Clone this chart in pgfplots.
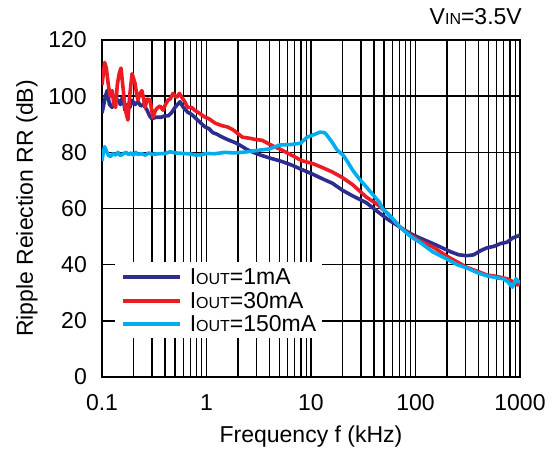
\documentclass[border=0pt]{standalone}
\usepackage{fontspec}
\setmainfont{Liberation Sans}
\usepackage{pgfplots}
\pgfplotsset{compat=1.18}
\newcommand{\sm}[1]{{\fontsize{16bp}{16bp}\selectfont #1}}
\definecolor{cdark}{RGB}{44,45,140}
\definecolor{cred}{RGB}{237,28,36}
\definecolor{ccyan}{RGB}{0,174,239}
\begin{document}
\fontsize{23bp}{27bp}\selectfont
\begin{tikzpicture}
\begin{axis}[
 scale only axis, width=418bp, height=337bp,
 xmode=log, xmin=0.1, xmax=1000, ymin=0, ymax=120,
 xtick={0.1,1,10,100,1000}, xticklabels={0.1,1,10,100,1000},
 minor xtick={0.2,0.3,0.4,0.5,0.6,0.7,0.8,0.9,2,3,4,5,6,7,8,9,20,30,40,50,60,70,80,90,200,300,400,500,600,700,800,900},
 ytick={0,20,40,60,80,100,120},
 xmajorgrids, xminorgrids, ymajorgrids,
 major grid style={black, line width=1.35bp},
 minor grid style={black, line width=1.35bp},
 axis line style={black, line width=1.35bp},
 major tick length=0pt, minor tick length=0pt,
 /pgf/number format/assume math mode=true,
 yticklabel style={anchor=east, inner sep=0pt, xshift=-15bp},
 xticklabel style={anchor=north, inner sep=0pt, yshift=-17bp},
 xlabel={Frequency f (kHz)},
 ylabel={Ripple Reiection RR (dB)},
 xlabel style={at={([yshift=-65bp]axis description cs:0.5,0)}, anchor=base, inner sep=0pt},
 ylabel style={at={([xshift=-69bp]axis description cs:0,0.5)}, anchor=base, inner sep=0pt},
 legend style={at={(rel axis cs:0.031,0.116)}, anchor=south west, draw=none, fill=white,
   inner xsep=6bp, inner ysep=6bp, row sep=7bp, column sep=8bp,
   nodes={inner sep=0pt, text height=16.5bp, text depth=0pt, anchor=base west}},
 legend image code/.code={\draw[#1] (0bp,7.5bp) -- (57bp,7.5bp);},
 legend cell align=left,
 every axis plot/.append style={line width=3.6bp, line join=round},
]
\addplot[cdark] coordinates {
(0.100,94) (0.104,97) (0.108,100) (0.112,102) (0.118,97) (0.125,96) (0.133,99) (0.142,98.6) (0.150,97) (0.158,100) (0.166,95) (0.175,97) (0.185,96) (0.194,98.6) (0.207,97) (0.221,98) (0.235,96.5) (0.25,97) (0.27,95) (0.285,93) (0.30,92) (0.33,92.5) (0.37,92.5) (0.40,93) (0.43,93) (0.46,94) (0.5,96) (0.557,98) (0.6,96) (0.66,94.3) (0.72,93.5) (0.77,92.5) (0.85,91) (0.97,89) (1.05,88.5) (1.15,87) (1.25,86.5) (1.4,85.5) (1.6,84.5) (1.87,83.5) (2.1,82.5) (2.44,81) (2.8,80) (3.3,79) (4,78) (5,77) (6,76) (7,75) (8,74) (10,72.5) (13,70.5) (16,69) (20,66.5) (25,64.5) (34,62) (43,59) (55,56) (71,53.4) (90,51) (110,49.5) (147,47.5) (180,46) (220,44.5) (260,43.5) (311,43.2) (360,43.5) (420,45) (483,46) (560,46.5) (650,47.5) (751,48) (850,49.5) (1000,50.5)
};
\addlegendentry{I\sm{OUT}=1mA}
\addplot[cred] coordinates {
(0.100,104) (0.103,108) (0.106,112) (0.110,110) (0.115,104) (0.120,100) (0.125,102) (0.130,97) (0.135,96) (0.140,104) (0.146,108) (0.152,110) (0.158,104) (0.164,98) (0.170,94) (0.177,91.5) (0.184,100) (0.194,108) (0.207,104.6) (0.214,101) (0.221,98.6) (0.231,101) (0.241,102) (0.25,99) (0.258,96) (0.272,99) (0.288,98.6) (0.307,92.5) (0.325,95) (0.343,96) (0.36,96.5) (0.383,95) (0.405,97) (0.428,98.6) (0.45,99) (0.478,101) (0.5,100) (0.52,99.6) (0.55,101) (0.58,99.6) (0.62,98) (0.66,96) (0.72,96) (0.77,95) (0.85,94) (0.97,92.5) (1.05,92) (1.21,90.4) (1.4,89.5) (1.6,89) (1.8,88) (2.2,85.4) (2.6,85) (3.0,84.5) (3.4,84.3) (4.2,82.5) (5.27,80.8) (6.5,79) (8.2,77) (10.4,76) (13,74.5) (16,73) (20,71) (25,68.5) (34,64) (43,61.5) (55,58) (71,53.4) (90,50.5) (110,48.5) (147,46.3) (200,43) (250,41) (311,39) (400,37.5) (483,36.3) (560,36) (650,35.5) (751,35) (850,34) (960,32.7) (1000,33.5)
};
\addlegendentry{I\sm{OUT}=30mA}
\addplot[ccyan] coordinates {
(0.100,77) (0.103,80) (0.106,82) (0.110,80.5) (0.115,79) (0.12,78.5) (0.127,79.5) (0.135,79) (0.142,80) (0.15,78.8) (0.16,79.5) (0.17,80) (0.18,79.2) (0.19,79.8) (0.2,79) (0.21,80) (0.22,79.3) (0.24,79.5) (0.26,79) (0.28,79.8) (0.3,79.3) (0.35,79.5) (0.4,79.6) (0.45,80.2) (0.5,79.8) (0.6,79.6) (0.7,79.4) (0.8,79) (0.9,79.2) (1.0,79.6) (1.2,79.5) (1.5,80) (1.8,79.8) (2.2,80) (2.7,80.4) (3.25,80.8) (4,81.2) (5,82.6) (6.5,82.8) (7.9,83.2) (9.2,85.4) (11,86.5) (12.2,87.2) (13.5,87) (14.2,86.1) (16,83.5) (17.8,80.8) (20.3,79) (22.5,76.5) (25,73.7) (29,70.5) (34,67.6) (40,64.5) (45,62.3) (48.7,59.8) (60,56.5) (71,53.4) (90,50) (110,48) (147,44.5) (200,42) (250,40) (311,38.8) (400,37) (483,36) (555,35.6) (620,35.2) (690,35) (760,34) (845,32) (880,33.5) (915,35) (960,34) (1000,34)
};
\addlegendentry{I\sm{OUT}=150mA}
\coordinate (ll) at (rel axis cs:0,0);
\coordinate (ur) at (rel axis cs:1,1);
\end{axis}
\node[anchor=base east, inner sep=0pt] at ([xshift=2bp,yshift=15bp]ur) {V\sm{IN}=3.5V};
\pgfresetboundingbox
\path[use as bounding box] ([shift={(-102bp,-75bp)}]ll) rectangle ([shift={(38bp,40bp)}]ur);
\end{tikzpicture}
\end{document}
